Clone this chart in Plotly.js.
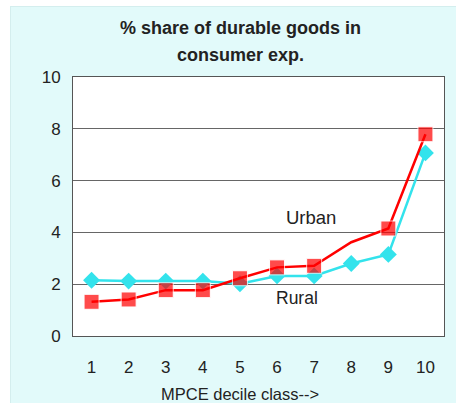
<!DOCTYPE html>
<html>
<head>
<meta charset="utf-8">
<script src="https://cdn.plot.ly/plotly-3.0.1.min.js"></script>
<style>
html,body{margin:0;padding:0;background:#fff;}
#bg{position:absolute;left:10px;top:6px;width:446px;height:397px;background:#e2fafa;border-left:1px solid #d4eeee;border-top:1px solid #d4eeee;box-sizing:border-box;}
#chart{position:absolute;left:0;top:0;width:456px;height:407px;}
</style>
</head>
<body>
<div id="bg"></div>
<div id="chart"></div>
<script>
const deciles = ['1','2','3','4','5','6','7','8','9','10'];
const urban = [1.32, 1.41, 1.77, 1.77, 2.23, 2.65, 2.71, 3.62, 4.15, 7.79];
const rural = [2.15, 2.12, 2.12, 2.12, 2.02, 2.32, 2.32, 2.80, 3.15, 7.07];
const yTicks = [0, 2, 4, 6, 8, 10];

// marker visibility per point (Urban has no marker at decile 8)
const urbanMarkerSize = deciles.map(d => d === '8' ? 0 : 15);

const txt = '#222';
const traces = [
  {
    x: deciles, y: rural, type: 'scatter', mode: 'lines+markers', name: 'Rural',
    line: {color: '#33e3ec', width: 2.5},
    marker: {symbol: 'diamond', size: 13, color: '#33e3ec'}
  },
  {
    x: deciles, y: urban, type: 'scatter', mode: 'lines+markers', name: 'Urban',
    line: {color: '#ff0000', width: 2.5},
    marker: {symbol: 'square', size: urbanMarkerSize, color: '#ff0000'}
  }
];

const layout = {
  width: 456, height: 407,
  margin: {l: 73, r: 12, t: 77, b: 71},
  paper_bgcolor: 'rgba(0,0,0,0)',
  plot_bgcolor: '#ffffff',
  showlegend: false,
  font: {family: 'Liberation Sans, Arial, sans-serif', color: txt},
  xaxis: {
    type: 'category', range: [-0.5, 9.5],
    showgrid: false, zeroline: false,
    showline: true, mirror: true, linecolor: '#555', linewidth: 1,
    ticks: '', tickfont: {size: 17, color: txt},
    ticklabelstandoff: 16
  },
  yaxis: {
    range: [0, 10], tickvals: yTicks,
    showgrid: true, gridcolor: '#666', gridwidth: 1,
    zeroline: false,
    showline: true, mirror: true, linecolor: '#555', linewidth: 1,
    ticks: '', tickfont: {size: 17, color: txt},
    ticklabelstandoff: 8
  },
  annotations: [
    {text: '<b>% share of durable goods in</b>', xref: 'paper', yref: 'paper',
     x: (240 - 73) / 371, y: 1 + (77 - 28) / 259, xanchor: 'center', yanchor: 'middle',
     showarrow: false, font: {size: 18, color: txt}},
    {text: '<b>consumer exp.</b>', xref: 'paper', yref: 'paper',
     x: (240 - 73) / 371, y: 1 + (77 - 55) / 259, xanchor: 'center', yanchor: 'middle',
     showarrow: false, font: {size: 18, color: txt}},
    {text: 'MPCE decile class-->', xref: 'paper', yref: 'paper',
     x: (240 - 73) / 371, y: -(394 - 336) / 259, xanchor: 'center', yanchor: 'middle',
     showarrow: false, font: {size: 16.5, color: txt}},
    {text: 'Urban', xref: 'x', yref: 'y', x: 5.92, y: 4.58,
     xanchor: 'center', yanchor: 'middle', showarrow: false, font: {size: 18.5, color: txt}},
    {text: 'Rural', xref: 'x', yref: 'y', x: 5.55, y: 1.46,
     xanchor: 'center', yanchor: 'middle', showarrow: false, font: {size: 17.5, color: txt}}
  ]
};

Plotly.newPlot('chart', traces, layout, {displayModeBar: false, staticPlot: true});
</script>
</body>
</html>
